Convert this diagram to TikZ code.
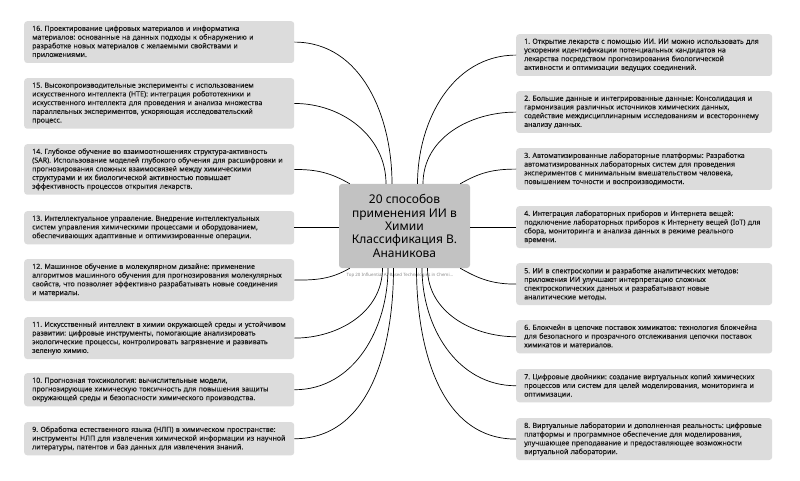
\documentclass[tikz,border=0pt]{standalone}
\usepackage{fontspec}
\setmainfont{Noto Sans}
\newfontfamily\itemfont{Noto Sans}[FakeBold=0.25]
\definecolor{boxfill}{HTML}{DCDCDC}
\definecolor{hubfill}{HTML}{C2C2C2}
\definecolor{txt}{HTML}{1A1A1A}
\definecolor{captxt}{HTML}{8A8A8A}
\begin{document}
\frenchspacing
\begin{tikzpicture}[x=1pt,y=-1pt,
  item/.style={fill=boxfill, rounded corners=3pt, anchor=north west, align=left,
    inner xsep=8pt, inner ysep=0pt, font=\itemfont\fontsize{7.05}{8.7}\selectfont, text=txt},
  leftitem/.style={item, text width=254pt},
  rightitem/.style={item, text width=240pt},
  three/.style={minimum height=33.1pt},
  four/.style={minimum height=41.8pt},
  five/.style={minimum height=50.5pt},
  hubbox/.style={fill=hubfill, rounded corners=3pt, minimum width=131pt, minimum height=84pt,
    align=center, inner sep=0pt, font=\fontsize{12}{13.3}\selectfont, text=black},
  link/.style={draw=black, line width=0.7pt}]
\useasboundingbox[fill=white] (0,0) rectangle (800,481);

% hub
\node[hubbox] (hub) at (404.5,226) {20 способов\\применения ИИ в\\Химии\\Классификация В.\\Ананикова};
\node[font=\fontsize{4.4}{5}\selectfont, text=captxt, inner sep=0pt] (cap) at (400,275)
  {Top 20 Influential AI-Based Technologies in Chemi...};

% left boxes
\node[leftitem, four] (b16) at (24,21) {16. Проектирование цифровых материалов и информатика\\
материалов: основанные на данных подходы к обнаружению и\\
разработке новых материалов с желаемыми свойствами и\\
приложениями.};
\node[leftitem, five] (b15) at (24,78) {15. Высокопроизводительные эксперименты с использованием\\
искусственного интеллекта (HTE): интеграция робототехники и\\
искусственного интеллекта для проведения и анализа множества\\
параллельных экспериментов, ускоряющая исследовательский\\
процесс.};
\node[leftitem, five] (b14) at (24,144) {14. Глубокое обучение во взаимоотношениях структура-активность\\
(SAR). Использование моделей глубокого обучения для расшифровки и\\
прогнозирования сложных взаимосвязей между химическими\\
структурами и их биологической активностью повышает\\
эффективность процессов открытия лекарств.};
\node[leftitem, three] (b13) at (24,211) {13. Интеллектуальное управление. Внедрение интеллектуальных\\
систем управления химическими процессами и оборудованием,\\
обеспечивающих адаптивные и оптимизированные операции.};
\node[leftitem, four] (b12) at (24,259) {12. Машинное обучение в молекулярном дизайне: применение\\
алгоритмов машинного обучения для прогнозирования молекулярных\\
свойств, что позволяет эффективно разрабатывать новые соединения\\
и материалы.};
\node[leftitem, four] (b11) at (24,317) {11. Искусственный интеллект в химии окружающей среды и устойчивом\\
развитии: цифровые инструменты, помогающие анализировать\\
экологические процессы, контролировать загрязнение и развивать\\
зеленую химию.};
\node[leftitem, three] (b10) at (24,373) {10. Прогнозная токсикология: вычислительные модели,\\
прогнозирующие химическую токсичность для повышения защиты\\
окружающей среды и безопасности химического производства.};
\node[leftitem, three] (b9) at (24,422) {9. Обработка естественного языка (НЛП) в химическом пространстве:\\
инструменты НЛП для извлечения химической информации из научной\\
литературы, патентов и баз данных для извлечения знаний.};

% right boxes
\node[rightitem, four] (b1) at (516,34) {1. Открытие лекарств с помощью ИИ. ИИ можно использовать для\\
ускорения идентификации потенциальных кандидатов на\\
лекарства посредством прогнозирования биологической\\
активности и оптимизации ведущих соединений.};
\node[rightitem, four] (b2) at (516,91) {2. Большие данные и интегрированные данные: Консолидация и\\
гармонизация различных источников химических данных,\\
содействие междисциплинарным исследованиям и всестороннему\\
анализу данных.};
\node[rightitem, four] (b3) at (516,148) {3. Автоматизированные лабораторные платформы: Разработка\\
автоматизированных лабораторных систем для проведения\\
экспериментов с минимальным вмешательством человека,\\
повышением точности и воспроизводимости.};
\node[rightitem, four] (b4) at (516,206) {4. Интеграция лабораторных приборов и Интернета вещей:\\
подключение лабораторных приборов к Интернету вещей (IoT) для\\
сбора, мониторинга и анализа данных в режиме реального\\
времени.};
\node[rightitem, four] (b5) at (516,263) {5. ИИ в спектроскопии и разработке аналитических методов:\\
приложения ИИ улучшают интерпретацию сложных\\
спектроскопических данных и разрабатывают новые\\
аналитические методы.};
\node[rightitem, three] (b6) at (516,320) {6. Блокчейн в цепочке поставок химикатов: технология блокчейна\\
для безопасного и прозрачного отслеживания цепочки поставок\\
химикатов и материалов.};
\node[rightitem, three] (b7) at (516,369) {7. Цифровые двойники: создание виртуальных копий химических\\
процессов или систем для целей моделирования, мониторинга и\\
оптимизации.};
\node[rightitem, four] (b8) at (516,418) {8. Виртуальные лаборатории и дополненная реальность: цифровые\\
платформы и программное обеспечение для моделирования,\\
улучшающее преподавание и предоставляющее возможности\\
виртуальной лаборатории.};

% connectors, left
\draw[link] (b16.east) to[out=0,in=90] ([xshift=-12.5pt]hub.north);
\draw[link] (b15.east) to[out=0,in=90] ([xshift=-18.5pt]hub.north);
\draw[link] (b14.east) to[out=0,in=150] ([xshift=11pt]hub.north west);
\draw[link] (b13.east) -- (b13.east -| hub.west);
\draw[link] (b12.east) to[out=0,in=210] ([xshift=11pt]hub.south west);
\draw[link] (b11.east) to[out=0,in=-90] ([xshift=-22pt]hub.south);
\draw[link] (b10.east) to[out=0,in=-90] ([xshift=-16.5pt]hub.south);
\draw[link] (b9.east) to[out=0,in=-90] ([xshift=-11pt]hub.south);
% connectors, right
\draw[link] (b1.west) to[out=180,in=90] ([xshift=13pt]hub.north);
\draw[link] (b2.west) to[out=180,in=90] ([xshift=18.5pt]hub.north);
\draw[link] (b3.west) to[out=180,in=30] ([xshift=-10pt]hub.north east);
\draw[link] (b4.west) -- (b4.west -| hub.east);
\draw[link] (b5.west) to[out=180,in=-30] ([xshift=-10pt]hub.south east);
\draw[link] (b6.west) to[out=180,in=-90] ([xshift=23pt]hub.south);
\draw[link] (b7.west) to[out=180,in=-90] ([xshift=17.5pt]hub.south);
\draw[link] (b8.west) to[out=180,in=-90] ([xshift=12pt]hub.south);
\end{tikzpicture}
\end{document}
